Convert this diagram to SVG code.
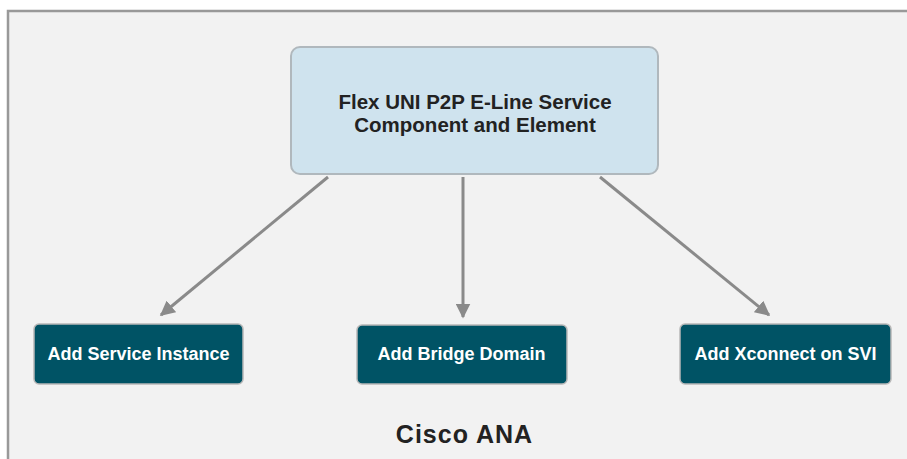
<svg xmlns="http://www.w3.org/2000/svg" width="907" height="459" viewBox="0 0 907 459">
<style>
.t{font-family:"Liberation Sans",Arial,sans-serif;font-weight:bold;text-anchor:middle}
.top{fill:#cfe3ee;stroke:#b0b8bd;stroke-width:2}
.btm{fill:#005365;stroke:#b8b8b8;stroke-width:1.5}
.bt{font-size:18px;fill:#ffffff}
.c{stroke:#8a8a8a;stroke-width:3;fill:none;marker-end:url(#ah)}
</style>
<defs>
<marker id="ah" viewBox="0 0 10 10" refX="9" refY="5" markerWidth="5" markerHeight="5" orient="auto" markerUnits="strokeWidth">
<path d="M0,0 L10,5 L0,10 z" fill="#8a8a8a"/>
</marker>
</defs>
<rect x="0" y="0" width="907" height="459" fill="#ffffff"/>
<rect x="8" y="11" width="920" height="470" fill="#f2f2f2" stroke="#999999" stroke-width="2.5"/>
<g id="connectors">
<line class="c" x1="328" y1="177" x2="161" y2="315"/>
<line class="c" x1="463" y1="177" x2="463" y2="317"/>
<line class="c" x1="600" y1="177" x2="769" y2="315"/>
</g>
<g id="n-flex">
<rect class="top" x="291" y="47" width="367" height="127" rx="9"/>
<text class="t" x="475" y="109" font-size="20.5" fill="#222222">Flex UNI P2P E-Line Service</text>
<text class="t" x="475" y="132" font-size="20.5" fill="#222222">Component and Element</text>
</g>
<g id="n-service">
<rect class="btm" x="34" y="324" width="209" height="60" rx="5"/>
<text class="t bt" x="138.5" y="360">Add Service Instance</text>
</g>
<g id="n-bridge">
<rect class="btm" x="357" y="325" width="210" height="59" rx="5"/>
<text class="t bt" x="461.5" y="360">Add Bridge Domain</text>
</g>
<g id="n-xconnect">
<rect class="btm" x="680" y="324" width="211" height="60" rx="5"/>
<text class="t bt" x="785.5" y="360">Add Xconnect on SVI</text>
</g>
<text class="t" x="464.5" y="443" font-size="25" letter-spacing="1" fill="#222222">Cisco ANA</text>
</svg>
